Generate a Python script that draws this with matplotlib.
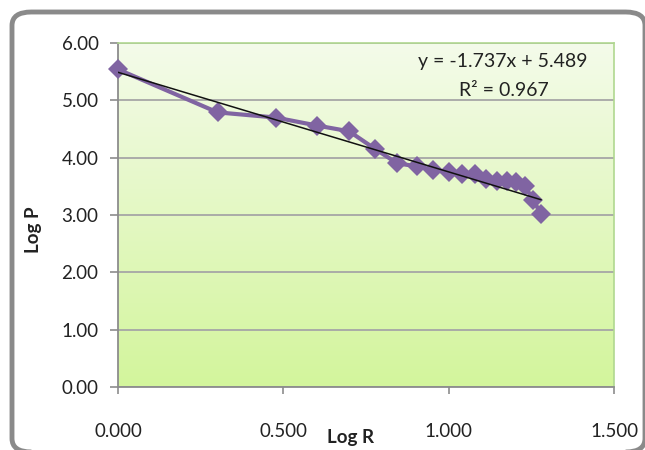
import numpy as np
import matplotlib.pyplot as plt
from matplotlib.patches import FancyBboxPatch
from matplotlib.colors import LinearSegmentedColormap

# data
log_r = [0.000, 0.301, 0.477, 0.602, 0.699, 0.778, 0.845, 0.903, 0.954, 1.000,
         1.041, 1.079, 1.114, 1.146, 1.176, 1.204, 1.230, 1.255, 1.279]
log_p = [5.54, 4.79, 4.70, 4.56, 4.46, 4.15, 3.90, 3.85, 3.78, 3.75,
         3.71, 3.72, 3.63, 3.59, 3.60, 3.57, 3.51, 3.27, 3.02]

slope = -1.737
intercept = 5.489
r2 = 0.967

x_ticks = [0.0, 0.5, 1.0, 1.5]
y_ticks = [0, 1, 2, 3, 4, 5, 6]

W, H = 645, 450
plt.rcParams['font.family'] = ['Lato', 'DejaVu Sans']

fig = plt.figure(figsize=(W / 100, H / 100), dpi=100)

def fx(px):
    return px / W

def fy(py):
    return 1 - py / H

# rounded outer border
border = FancyBboxPatch((fx(12), fy(452)), fx(645) - fx(12), fy(12) - fy(452),
                        boxstyle="round,pad=0,rounding_size=0.03",
                        transform=fig.transFigure, fill=False,
                        edgecolor='#8a8a8a', linewidth=3.5, clip_on=False)
fig.patches.append(border)

ax = fig.add_axes([fx(118), fy(387), fx(614) - fx(118), fy(43) - fy(387)])
ax.set_xlim(0, 1.5)
ax.set_ylim(0, 6)

# green gradient background
cmap = LinearSegmentedColormap.from_list('g', ['#d3f59c', '#f4fbea'])
grad = np.linspace(0, 1, 256).reshape(-1, 1)
ax.imshow(grad, extent=(0, 1, 0, 1), transform=ax.transAxes, aspect='auto',
          cmap=cmap, origin='lower', zorder=0)

ax.set_axisbelow(True)
ax.yaxis.grid(True, color='#a6a6a6', linewidth=1.3)
ax.xaxis.grid(False)

for s in ['top', 'right']:
    ax.spines[s].set_color('#b0d890')
    ax.spines[s].set_linewidth(1.2)
for s in ['left', 'bottom']:
    ax.spines[s].set_color('#8c8c8c')
    ax.spines[s].set_linewidth(1.3)

ax.set_xticks(x_ticks)
ax.set_xticklabels([f"{v:.3f}" for v in x_ticks])
ax.set_yticks(y_ticks)
ax.set_yticklabels([f"{v:.2f}" for v in y_ticks])
ax.tick_params(axis='x', direction='out', length=5, width=1.2, color='#8c8c8c',
               pad=21, labelsize=13.5, labelcolor='#222222')
ax.tick_params(axis='y', direction='out', length=6, width=1.2, color='#8c8c8c',
               pad=8, labelsize=13.5, labelcolor='#222222')

# data series
ax.plot(log_r, log_p, color='#8064a2', linewidth=3, marker='D',
        markersize=10.5, markeredgewidth=0, zorder=3, clip_on=False)

# linear trendline
tx = np.array([log_r[0], log_r[-1]])
ax.plot(tx, slope * tx + intercept, color='#111111', linewidth=1.1, zorder=4)

fig.text(fx(503), fy(61), f"y = {slope:.3f}x + {intercept:.3f}", ha='center',
         va='center', fontsize=14, color='#222222')
fig.text(fx(504), fy(90), f"R² = {r2:.3f}", ha='center', va='center',
         fontsize=14, color='#222222')

fig.text(fx(351), fy(438), "Log R", ha='center', va='center', fontsize=13.5,
         fontweight='bold', color='#222222')
fig.text(fx(33), fy(230), "Log P", ha='center', va='center', fontsize=13.5,
         fontweight='bold', color='#222222', rotation=90)

fig.savefig('out.png', dpi=100)
